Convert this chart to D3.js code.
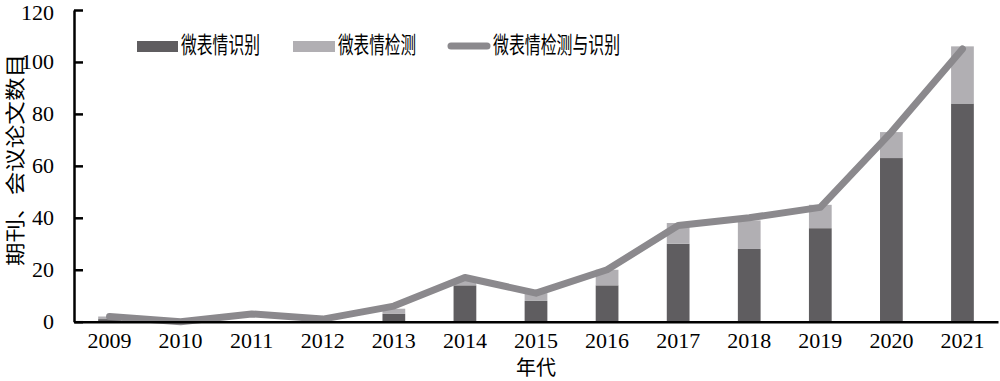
<!DOCTYPE html>
<html><head><meta charset="utf-8">
<script src="https://cdn.jsdelivr.net/npm/d3@7"></script>
<style>body{margin:0;background:#fff;}svg{display:block;}</style>
</head><body>
<svg id="c" width="1000" height="381"></svg>
<script>
const years = ["2009","2010","2011","2012","2013","2014","2015","2016","2017","2018","2019","2020","2021"];
const recognition = [1, 0, 0, 0, 3, 14, 8, 14, 30, 28, 36, 63, 84];
const detection   = [1, 0, 0, 0, 2, 2, 3, 6, 8, 11, 9, 10, 22];
const combined    = [2, 0, 3, 1, 6, 17, 11, 20, 37, 40, 44, 73, 105];
const yTicks = [0, 20, 40, 60, 80, 100, 120];
const legendLabels = ["微表情识别", "微表情检测", "微表情检测与识别"];
const yTitle = "期刊、会议论文数目";
const xTitle = "年代";

const cDark = "#5f5d60", cLight = "#b1afb3", cLine = "#8b898d";
const serif = "'Liberation Serif','DejaVu Serif',serif";
const cjk = "'Noto Sans CJK SC',sans-serif";

const svg = d3.select("#c");
const L = 74, R = 998, T = 10, B = 321.7;
const x = d3.scaleBand().domain(years).range([L, R]).paddingInner(0.68).paddingOuter(0.34);
const y = d3.scaleLinear().domain([0, 120]).range([B, T]);

const stacked = years.map((yr, i) => ({yr, r: recognition[i], d: detection[i]}));

// bars
svg.append("g").selectAll("rect.r").data(stacked).join("rect")
  .attr("x", d => x(d.yr)).attr("width", x.bandwidth())
  .attr("y", d => y(d.r)).attr("height", d => y(0) - y(d.r)).attr("fill", cDark);
svg.append("g").selectAll("rect.d").data(stacked).join("rect")
  .attr("x", d => x(d.yr)).attr("width", x.bandwidth())
  .attr("y", d => y(d.r + d.d)).attr("height", d => y(d.r) - y(d.r + d.d)).attr("fill", cLight);

// line
const line = d3.line().x((d, i) => x(years[i]) + x.bandwidth() / 2).y(d => y(d));
svg.append("path").datum(combined).attr("d", line).attr("fill", "none")
  .attr("stroke", cLine).attr("stroke-width", 7).attr("stroke-linejoin", "round").attr("stroke-linecap", "round");

// y axis
const ya = svg.append("g").attr("transform", `translate(${L},0)`)
  .call(d3.axisLeft(y).tickValues(yTicks).tickSize(-9).tickPadding(20).tickSizeOuter(0));
ya.select(".domain").attr("stroke", "#000").attr("stroke-width", 2.5);
ya.selectAll(".tick line").attr("stroke", "#000").attr("stroke-width", 2.5);
ya.selectAll(".tick text").attr("font-family", serif).attr("font-size", 22).attr("fill", "#000")
  .attr("dy", (d) => d === 120 ? "0.42em" : "0.32em");

// x axis
const xa = svg.append("g").attr("transform", `translate(0,${B})`)
  .call(d3.axisBottom(x).tickSize(0).tickPadding(10).tickSizeOuter(0));
xa.select(".domain").attr("stroke", "#000").attr("stroke-width", 2.5);
xa.selectAll(".tick text").attr("font-family", serif).attr("font-size", 22).attr("fill", "#000").attr("dy", "0.75em");

// titles
svg.append("text").attr("x", 536).attr("y", 375).attr("text-anchor", "middle")
  .attr("font-family", cjk).attr("font-size", 20).text(xTitle);
svg.append("text").attr("transform", "translate(23,160) rotate(-90)").attr("text-anchor", "middle")
  .attr("font-family", cjk).attr("font-size", 20).attr("textLength", 212).attr("lengthAdjust", "spacingAndGlyphs").text(yTitle);

// legend
const lg = svg.append("g");
lg.append("rect").attr("x", 137).attr("y", 41).attr("width", 41).attr("height", 11).attr("fill", cDark);
lg.append("rect").attr("x", 293).attr("y", 41).attr("width", 42).attr("height", 11).attr("fill", cLight);
lg.append("line").attr("x1", 451).attr("x2", 487).attr("y1", 46).attr("y2", 46)
  .attr("stroke", cLine).attr("stroke-width", 7).attr("stroke-linecap", "round");
const lt = [[181, 79], [338, 78], [493, 127]];
legendLabels.forEach((t, i) => {
  lg.append("text").attr("x", lt[i][0]).attr("y", 53).attr("font-family", cjk).attr("font-size", 23)
    .attr("textLength", lt[i][1]).attr("lengthAdjust", "spacingAndGlyphs").text(t);
});
</script>
</body></html>
